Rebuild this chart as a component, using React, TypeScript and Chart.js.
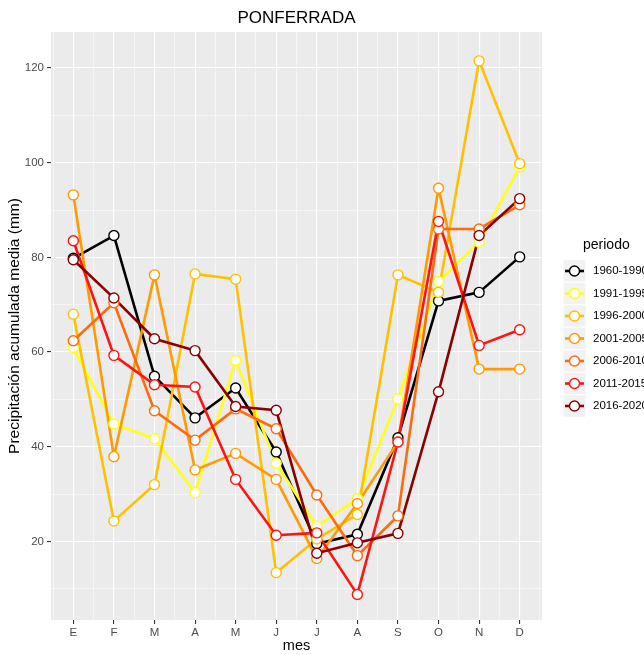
import React, { useEffect, useRef } from "react";
import { Chart, registerables } from "chart.js";

Chart.register(...registerables);

const months = ["E", "F", "M", "A", "M", "J", "J", "A", "S", "O", "N", "D"];
const periods = ["1960-1990", "1991-1995", "1996-2000", "2001-2005", "2006-2010", "2011-2015", "2016-2020"];
const colors = ["#000000", "#FFFF1A", "#FFC000", "#FF9A00", "#FF6A0F", "#FF1414", "#8B0000"];

const p1960_1990 = [79.8, 84.6, 54.9, 46.1, 52.4, 38.9, 19.5, 21.5, 41.9, 70.8, 72.6, 80.1];
const p1991_1995 = [60.9, 44.8, 41.7, 30.3, 58.2, 36.5, 23.2, 29.0, 50.1, 74.9, 83.2, 99.1];
const p1996_2000 = [68.0, 24.3, 32.0, 76.5, 75.4, 13.4, 20.5, 25.7, 76.3, 72.6, 121.5, 99.8];
const p2001_2005 = [93.2, 37.9, 76.3, 35.1, 38.6, 33.1, 16.4, 28.0, 41.0, 94.6, 56.4, 56.4];
const p2006_2010 = [62.4, 70.4, 47.6, 41.4, 48.0, 43.8, 29.8, 17.0, 25.4, 86.0, 86.0, 91.1];
const p2011_2015 = [83.5, 59.3, 53.1, 52.6, 33.1, 21.3, 21.8, 8.8, 41.0, 87.6, 61.4, 64.7];
const p2016_2020 = [79.5, 71.4, 62.8, 60.3, 48.5, 47.7, 17.5, 19.7, 21.7, 51.6, 84.6, 92.4];

const seriesValues = [p1960_1990, p1991_1995, p1996_2000, p2001_2005, p2006_2010, p2011_2015, p2016_2020];

const yTickValues = [10, 20, 30, 40, 50, 60, 70, 80, 90, 100, 110, 120];
const xTickValues = [0.5, 1, 1.5, 2, 2.5, 3, 3.5, 4, 4.5, 5, 5.5, 6, 6.5, 7, 7.5, 8, 8.5, 9, 9.5, 10, 10.5, 11, 11.5, 12, 12.5];

const FONT = '"Liberation Sans", Arial, Helvetica, sans-serif';

export default function App() {
  const ref = useRef<HTMLCanvasElement | null>(null);

  useEffect(() => {
    if (!ref.current) return;
    Chart.defaults.font.family = FONT;
    const N = periods.length;
    const lineSets = seriesValues.map((vals, i) => ({
      label: periods[i] + "-line",
      data: vals.map((v, k) => ({ x: k + 1, y: v })),
      borderColor: colors[i],
      backgroundColor: colors[i],
      borderWidth: 2.6,
      pointRadius: 0,
      tension: 0,
      order: 100 + (N - i),
    }));
    const pointSets = seriesValues.map((vals, i) => ({
      label: periods[i],
      data: vals.map((v, k) => ({ x: k + 1, y: v })),
      showLine: false,
      borderColor: colors[i],
      pointRadius: 5,
      pointBorderWidth: 1.4,
      pointBackgroundColor: "#ffffff",
      pointBorderColor: colors[i],
      order: N - i,
    }));

    const panelBg = {
      id: "panelBg",
      beforeDraw(chart: any) {
        const { ctx, chartArea } = chart;
        ctx.save();
        ctx.fillStyle = "#EBEBEB";
        ctx.fillRect(chartArea.left, chartArea.top, chartArea.right - chartArea.left, chartArea.bottom - chartArea.top);
        ctx.restore();
      },
      afterDraw(chart: any) {
        const { ctx, chartArea } = chart;
        ctx.save();
        ctx.fillStyle = "#000";
        ctx.font = `17px ${FONT}`;
        ctx.textAlign = "center";
        ctx.textBaseline = "middle";
        ctx.fillText("PONFERRADA", (chartArea.left + chartArea.right) / 2, 18);
        ctx.textAlign = "left";
        ctx.font = `14px ${FONT}`;
        ctx.fillText("periodo", 583, 245);
        const startY = 271;
        const step = 22.5;
        for (let i = 0; i < periods.length; i++) {
          const cy = startY + i * step;
          ctx.fillStyle = "#F2F2F2";
          ctx.fillRect(563, cy - step / 2, 23, step);
          ctx.strokeStyle = "#ffffff";
          ctx.lineWidth = 1;
          ctx.strokeRect(563, cy - step / 2, 23, step);
          ctx.strokeStyle = colors[i];
          ctx.lineWidth = 2.6;
          ctx.beginPath();
          ctx.moveTo(565, cy);
          ctx.lineTo(584, cy);
          ctx.stroke();
          ctx.beginPath();
          ctx.arc(574.5, cy, 5, 0, Math.PI * 2);
          ctx.fillStyle = "#fff";
          ctx.fill();
          ctx.lineWidth = 1.4;
          ctx.stroke();
          ctx.fillStyle = "#000";
          ctx.font = `11.5px ${FONT}`;
          ctx.textBaseline = "middle";
          ctx.fillText(periods[i], 593, cy);
        }
        ctx.restore();
      },
    };

    const chart = new Chart(ref.current, {
      type: "line",
      data: { datasets: [...lineSets, ...pointSets] as any },
      options: {
        responsive: false,
        animation: false,
        events: [],
        layout: { padding: { left: 0, top: 32, right: 102, bottom: 0 } },
        plugins: { legend: { display: false }, tooltip: { enabled: false }, title: { display: false } },
        scales: {
          x: {
            type: "linear",
            position: "bottom",
            min: 0.45,
            max: 12.55,
            afterBuildTicks: (s: any) => {
              s.ticks = xTickValues.map((v) => ({ value: v }));
            },
            afterFit: (s: any) => {
              s.height = 35;
            },
            ticks: {
              autoSkip: false,
              maxRotation: 0,
              color: "#4D4D4D",
              font: { size: 11.5 },
              padding: 2,
              callback: (v: any) => (Number.isInteger(v) ? months[v - 1] : ""),
            },
            grid: {
              color: "#ffffff",
              lineWidth: (c: any) => (c.tick && Number.isInteger(c.tick.value) ? 1.1 : 0.5),
              tickColor: (c: any) => (c.tick && Number.isInteger(c.tick.value) ? "#333333" : "rgba(0,0,0,0)"),
              tickLength: 4,
              drawTicks: true,
            },
            border: { display: false },
            title: { display: true, text: "mes", color: "#000", font: { size: 14.5 }, padding: { top: 0, bottom: 0 } },
          },
          y: {
            type: "linear",
            min: 3.4,
            max: 127.6,
            afterBuildTicks: (s: any) => {
              s.ticks = yTickValues.map((v) => ({ value: v }));
            },
            afterFit: (s: any) => {
              s.width = 51;
            },
            ticks: {
              autoSkip: false,
              color: "#4D4D4D",
              font: { size: 11.5 },
              padding: 3,
              callback: (v: any) => (v % 20 === 0 ? String(v) : ""),
            },
            grid: {
              color: "#ffffff",
              lineWidth: (c: any) => (c.tick && c.tick.value % 20 === 0 ? 1.1 : 0.5),
              tickColor: (c: any) => (c.tick && c.tick.value % 20 === 0 ? "#333333" : "rgba(0,0,0,0)"),
              tickLength: 4,
              drawTicks: true,
            },
            border: { display: false },
            title: {
              display: true,
              text: "Precipitación acumulada media (mm)",
              color: "#000",
              font: { size: 15.5 },
              padding: { top: 5, bottom: 0 },
            },
          },
        },
      } as any,
      plugins: [panelBg],
    });
    return () => chart.destroy();
  }, []);

  return (
    <div style={{ position: "absolute", left: 0, top: 0, width: 644, height: 655 }}>
      <canvas ref={ref} width={644} height={655} />
    </div>
  );
}
